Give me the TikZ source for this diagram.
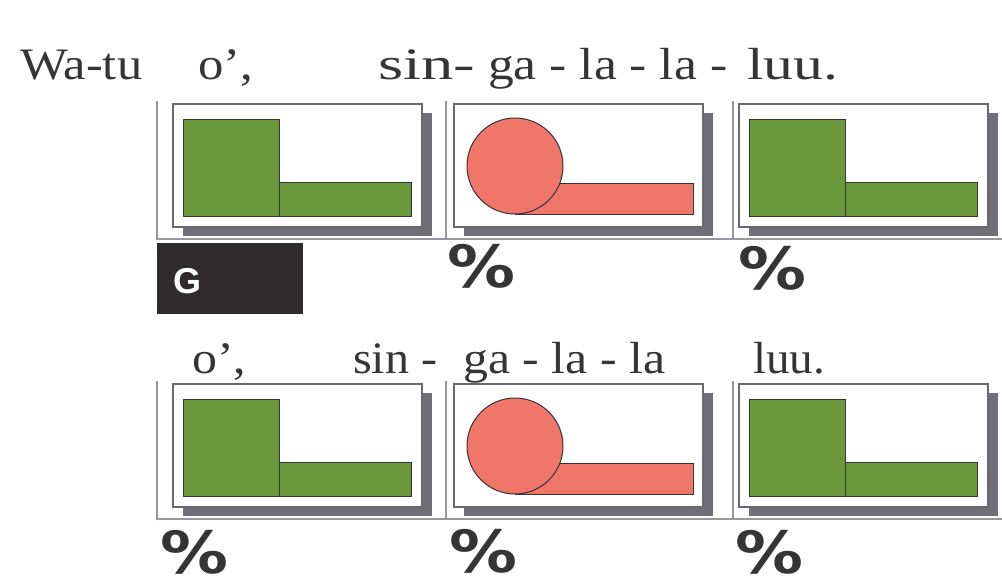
\documentclass[tikz,border=0pt]{standalone}
\usepackage{fontspec}
\usepackage{graphicx}
\setmainfont{Liberation Serif}
\newfontfamily\markfont{DejaVu Sans}
\newfontfamily\keyfont{Liberation Sans}
\definecolor{leafgreen}{RGB}{106,152,58}
\definecolor{salmon}{RGB}{240,118,106}
\definecolor{shade}{RGB}{112,110,118}
\definecolor{frame}{RGB}{105,105,115}
\definecolor{rulegray}{RGB}{150,150,160}
\definecolor{ink}{RGB}{55,52,55}
\definecolor{keyfill}{RGB}{47,42,43}
\newcommand\syl[2]{\resizebox{#1pt}{\height}{\fontsize{45}{50}\selectfont #2}}
\newcommand\pct{\resizebox*{68pt}{44pt}{\markfont\bfseries\%}}
\tikzset{
  lyric/.style={inner sep=0pt,anchor=base west,text=ink},
  bracket/.style={draw=rulegray,line width=1.4pt},
  card/.style={draw=frame,fill=white,line width=1.3pt},
  cardshade/.style={fill=shade},
  piece/.style={draw=ink,line width=1pt},
  pctmark/.style={inner sep=0pt,anchor=south west,text=ink},
}
\begin{document}
\begin{tikzpicture}[x=1pt,y=-1pt]
\useasboundingbox (0,0) rectangle (1002,582);
% lyrics, first line
\node[lyric] (watu)  at (20,79)  {\syl{122}{Wa-tu}};
\node[lyric] (o1)    at (198,79) {\syl{55}{o’,}};
\node[lyric] (sin1)  at (378,79) {\syl{97}{sin-}};
\node[lyric] (gala1) at (488,79) {\syl{239}{ga - la - la -}};
\node[lyric] (luu1)  at (747,79) {\syl{91}{luu.}};
% lyrics, second line
\node[lyric] (o2)    at (192,373) {\syl{54}{o’,}};
\node[lyric] (sin2)  at (353,373) {\syl{84}{sin -}};
\node[lyric] (gala2) at (463,373) {\syl{202}{ga - la - la}};
\node[lyric] (luu2)  at (753,373) {\syl{72}{luu.}};
% brackets
\foreach \y in {0,280} {
  \draw[bracket] (157,101+\y) -- (157,239+\y) -- (1002,239+\y);
  \draw[bracket] (446,101+\y) -- (446,239+\y);
  \draw[bracket] (733,101+\y) -- (733,239+\y);
}
% cards
\foreach \y in {104,384} {
  \foreach \x in {173,454,739} {
    \fill[cardshade] (\x+10,\y+9) rectangle +(249,123);
    \draw[card] (\x,\y) rectangle +(249,123);
  }
  \foreach \x in {173,739} {
    \draw[piece,fill=leafgreen] (\x+10,\y+15) rectangle (\x+106,\y+112);
    \draw[piece,fill=leafgreen] (\x+106,\y+78) rectangle (\x+238,\y+112);
  }
  \draw[piece,fill=salmon] (515,\y+79) rectangle (693,\y+110);
  \draw[piece,fill=salmon] (515,\y+62) circle[radius=48pt];
}
% key box
\fill[keyfill] (157,243) rectangle (303,314);
\node[anchor=base west,inner sep=0pt,text=white] (gkey) at (173,293)
  {\keyfont\bfseries\fontsize{36}{40}\selectfont G};
% percent marks
\node[pctmark] (p12) at (447,289) {\pct};
\node[pctmark] (p13) at (738,291) {\pct};
\node[pctmark] (p21) at (160,575) {\pct};
\node[pctmark] (p22) at (449,574) {\pct};
\node[pctmark] (p23) at (735,575) {\pct};
\end{tikzpicture}
\end{document}
